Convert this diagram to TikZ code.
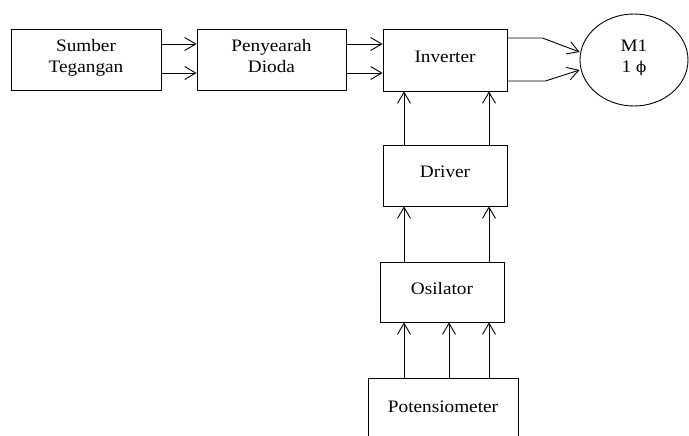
\documentclass[tikz,border=0pt]{standalone}
\usepackage{fontspec}
\setmainfont{Liberation Serif}[FakeStretch=1.1]
\newfontfamily\greekfont{DejaVu Serif}
\usetikzlibrary{arrows.meta,shapes.geometric,calc}

\begin{document}
\begin{tikzpicture}[x=1pt,y=-1pt,
  block/.style={draw, line width=0.9pt, inner sep=0pt, align=center,
    text depth=7pt, font=\fontsize{17.5}{21}\selectfont},
  flow/.style={-{Straight Barb[length=11pt,width=13pt]}, line width=0.9pt}]
\clip (0,0) rectangle (689,436);

% main power path
\node[block, minimum width=150, minimum height=61] (src) at (86,59.5) {Sumber\\Tegangan};
\node[block, minimum width=149, minimum height=61] (rect) at (271.5,59.5) {Penyearah\\Dioda};
\node[block, minimum width=124, minimum height=62] (inv) at (445,60) {Inverter};
\node[block, ellipse, minimum width=108, minimum height=92] (m1) at (634,60) {M1\\1 {\greekfont\fontsize{15}{21}\selectfont ϕ}};

% control chain
\node[block, minimum width=124, minimum height=61] (drv) at (445,175.5) {Driver};
\node[block, minimum width=124, minimum height=60] (osc) at (442,292) {Osilator};
\node[block, minimum width=150, minimum height=64] (pot) at (443,410) {Potensiometer};

% bend points of the motor leads
\coordinate (b1) at ($(inv.east)+(35,-22)$);
\coordinate (b2) at ($(inv.east)+(38,21)$);

% connectors
\foreach \yy in {44,73} {
  \draw[flow] (src.east |- 0,\yy) -- (rect.west |- 0,\yy);
  \draw[flow] (rect.east |- 0,\yy) -- (inv.west |- 0,\yy);
}
\draw[flow] (inv.east |- b1) -- (b1) -- ($(m1.west)+(0,-8)$);
\draw[flow] (inv.east |- b2) -- (b2) -- ($(m1.west)+(0,10)$);

\foreach \xx in {404,489} {
  \draw[flow] (drv.north -| \xx,0) -- (inv.south -| \xx,0);
  \draw[flow] (osc.north -| \xx,0) -- (drv.south -| \xx,0);
}
\foreach \xx in {404,449,489}
  \draw[flow] (pot.north -| \xx,0) -- (osc.south -| \xx,0);
\end{tikzpicture}
\end{document}
